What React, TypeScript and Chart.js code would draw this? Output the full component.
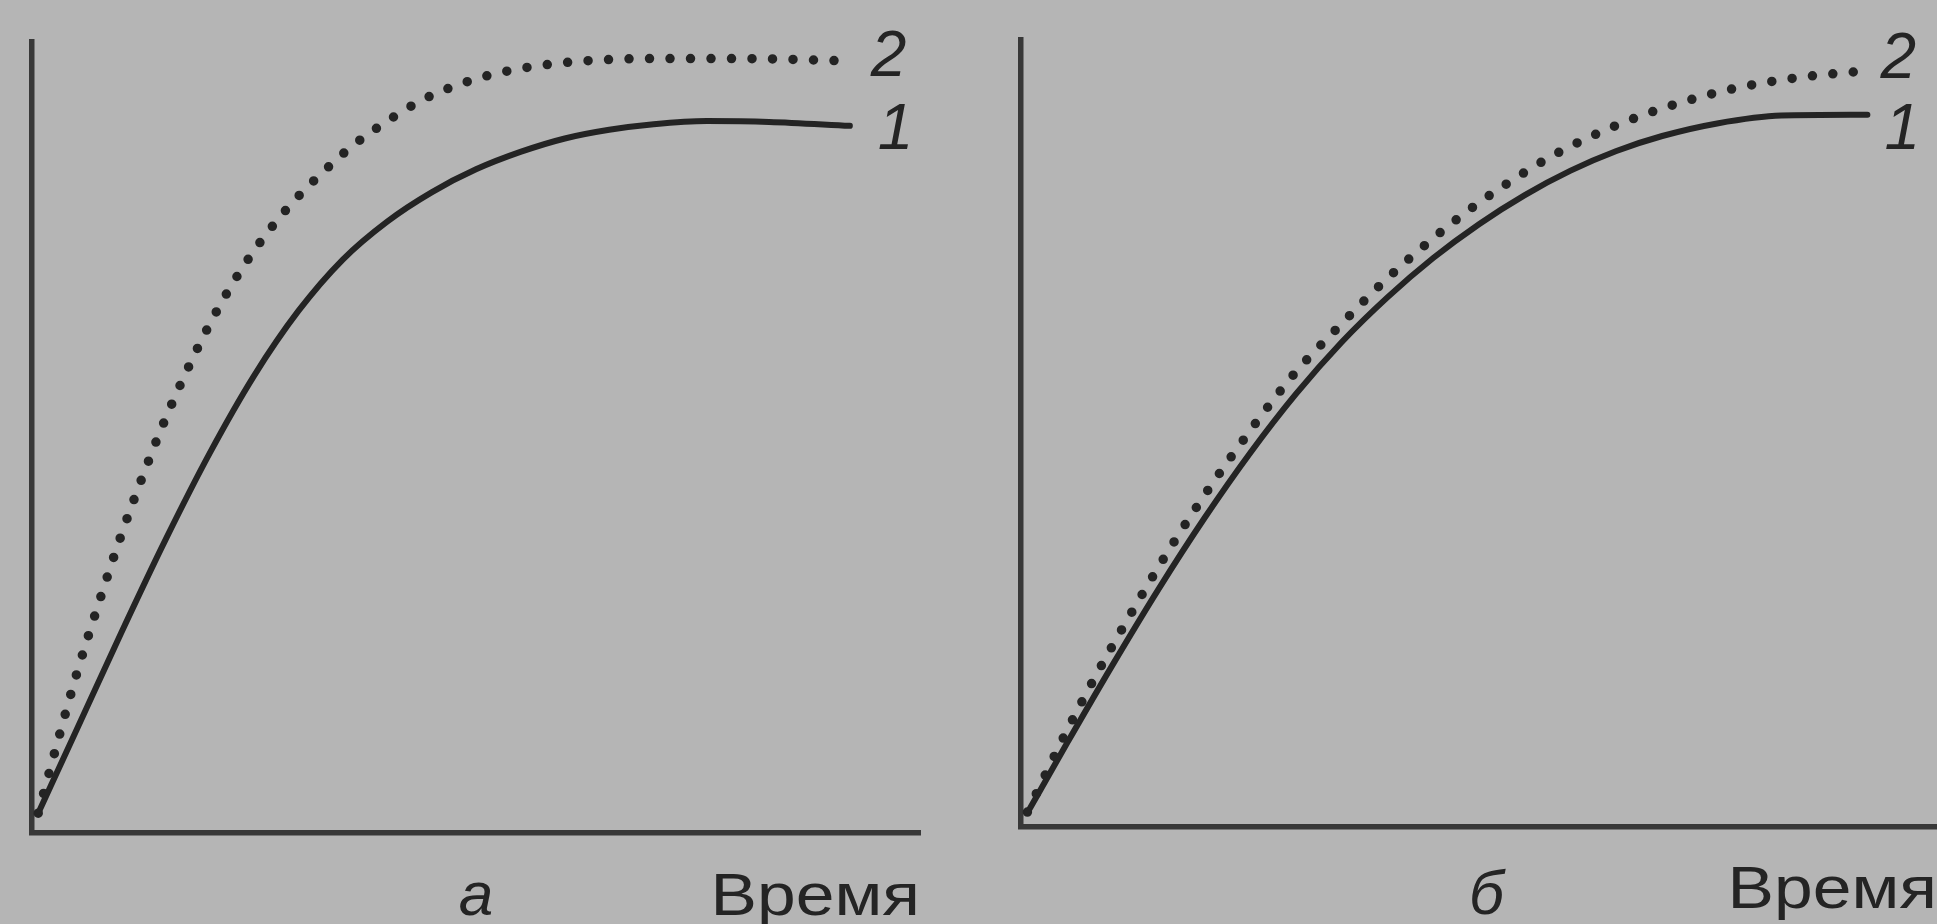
import React, { useEffect, useRef } from "react";
import { Chart, registerables } from "chart.js";

Chart.register(...registerables);

// ---- data (time in % of axis length, response in % of axis height) ----
const seriesNames = ["1", "2"];
const axisTitle = "Время";
const panelLetters = ["а", "б"];

// panel а
const aCurve1X = [0.7, 5, 10, 15, 20, 25, 30, 35, 40, 45, 50, 55, 60, 65, 70, 76, 83, 92.1];
const aCurve1Y = [2.5, 13.0, 25.2, 37.0, 48.0, 57.8, 66.0, 72.5, 77.3, 81.0, 83.9, 86.1, 87.8, 88.9, 89.6, 90.0, 89.9, 89.4];
const aCurve2X = [0.7, 3, 5, 7.5, 10, 12.5, 15, 17.5, 20, 22.5, 25, 27.5, 30, 33, 36, 40, 44, 48, 53, 60, 70, 80, 92.1];
const aCurve2Y = [2.5, 12.0, 20.0, 29.0, 37.5, 45.2, 52.3, 58.6, 64.3, 69.3, 73.6, 77.3, 80.5, 83.8, 86.8, 90.0, 92.7, 94.6, 96.2, 97.4, 97.9, 97.9, 97.6];

// panel б
const bCurve1X = [0.7, 5, 10, 15, 20, 25, 30, 35, 40, 45, 50, 55, 60, 65, 70, 76, 83, 92.4];
const bCurve1Y = [1.8, 10.6, 20.6, 30.2, 39.2, 47.5, 55.0, 61.6, 67.3, 72.3, 76.6, 80.3, 83.4, 85.9, 87.8, 89.4, 90.4, 90.5];
const bCurve2X = [0.7, 5.0, 8.3, 11.6, 15.2, 18.8, 22.8, 29.7, 34.8, 39.7, 45.0, 48.8, 52.6, 58.5, 65.1, 71.6, 78.5, 85.4, 92.4];
const bCurve2Y = [1.9, 12.2, 19.5, 26.3, 33.4, 40.0, 46.8, 57.4, 63.7, 69.4, 74.8, 78.3, 81.4, 85.6, 89.2, 91.9, 94.0, 95.3, 96.1];

// ---- styling ----
const FONT = '"Liberation Sans", Arial, Helvetica, sans-serif';
const INK = "#242424";
const AXIS = "#383838";
const BG = "#b5b5b5";

const toPoints = (xs: number[], ys: number[]) => xs.map((x, i) => ({ x, y: ys[i] }));

const panelTextPlugin = {
  id: "panelText",
  afterDatasetsDraw(chart: any, _args: any, opts: any) {
    const { ctx, chartArea, scales } = chart;
    ctx.save();
    ctx.fillStyle = INK;
    chart.data.datasets.forEach((ds: any, i: number) => {
      const meta = chart.getDatasetMeta(i);
      const last = meta.data[meta.data.length - 1];
      const off = opts.numberOffsets[i];
      ctx.font = `italic 64px ${FONT}`;
      ctx.textBaseline = "middle";
      ctx.textAlign = "left";
      ctx.fillText(ds.label, last.x + off[0], last.y + off[1]);
    });
    ctx.save();
    ctx.font = `60px ${FONT}`;
    ctx.textBaseline = "alphabetic";
    ctx.textAlign = "right";
    ctx.translate(chartArea.right + opts.titleDx, chartArea.bottom + opts.titleDy);
    ctx.scale(1.16, 1);
    ctx.fillText(opts.axisTitle, 0, 0);
    ctx.restore();
    ctx.font = `italic 62px ${FONT}`;
    ctx.textBaseline = "alphabetic";
    ctx.textAlign = "center";
    ctx.fillText(opts.letter, scales.x.getPixelForValue(opts.letterAt), chartArea.bottom + opts.letterDy);
    ctx.restore();
  },
};

type PanelProps = {
  left: number;
  width: number;
  padding: { left: number; right: number; top: number; bottom: number };
  c1x: number[];
  c1y: number[];
  c2x: number[];
  c2y: number[];
  letter: string;
  letterAt: number;
  letterDy: number;
  titleDx: number;
  titleDy: number;
  numberOffsets: number[][];
};

function Panel(p: PanelProps) {
  const ref = useRef<HTMLCanvasElement | null>(null);
  useEffect(() => {
    if (!ref.current) return;
    const axisOpts = () => ({
      type: "linear" as const,
      min: 0,
      max: 100,
      ticks: { display: false },
      grid: { display: false, drawTicks: false },
      border: { display: true, color: AXIS, width: 5.5 },
    });
    const chart = new Chart(ref.current, {
      type: "line",
      data: {
        datasets: [
          {
            label: seriesNames[0],
            data: toPoints(p.c1x, p.c1y),
            borderColor: INK,
            borderWidth: 6,
            pointRadius: 0,
            cubicInterpolationMode: "monotone",
            borderCapStyle: "round",
            fill: false,
          },
          {
            label: seriesNames[1],
            data: toPoints(p.c2x, p.c2y),
            borderColor: INK,
            borderWidth: 9.5,
            borderDash: [0, 20.5],
            borderCapStyle: "round",
            pointRadius: 0,
            cubicInterpolationMode: "monotone",
            fill: false,
          },
        ],
      },
      options: {
        responsive: false,
        animation: false,
        layout: { padding: p.padding },
        plugins: {
          legend: { display: false },
          tooltip: { enabled: false },
          title: { display: false },
          panelText: {
            axisTitle,
            letter: p.letter,
            letterAt: p.letterAt,
            letterDy: p.letterDy,
            titleDx: p.titleDx,
            titleDy: p.titleDy,
            numberOffsets: p.numberOffsets,
          },
        } as any,
        scales: {
          x: axisOpts(),
          y: axisOpts(),
        },
      },
      plugins: [panelTextPlugin],
    });
    return () => chart.destroy();
  }, []);
  return (
    <canvas
      ref={ref}
      width={p.width}
      height={924}
      style={{ position: "absolute", left: p.left, top: 0, width: p.width, height: 924 }}
    />
  );
}

export default function App() {
  return (
    <div
      style={{
        position: "fixed",
        left: 0,
        top: 0,
        width: 1937,
        height: 924,
        background: BG,
        overflow: "hidden",
      }}
    >
      <Panel
        left={0}
        width={968}
        padding={{ left: 32, right: 48, top: 42, bottom: 91 }}
        c1x={aCurve1X}
        c1y={aCurve1Y}
        c2x={aCurve2X}
        c2y={aCurve2Y}
        letter={panelLetters[0]}
        letterAt={50}
        letterDy={82}
        titleDx={0}
        titleDy={82}
        numberOffsets={[[28, 5], [21, -3]]}
      />
      <Panel
        left={968}
        width={969}
        padding={{ left: 53, right: 0, top: 40, bottom: 97 }}
        c1x={bCurve1X}
        c1y={bCurve1Y}
        c2x={bCurve2X}
        c2y={bCurve2Y}
        letter={panelLetters[1]}
        letterAt={50.8}
        letterDy={87}
        titleDx={0}
        titleDy={81}
        numberOffsets={[[17, 16], [13, -10]]}
      />
    </div>
  );
}
